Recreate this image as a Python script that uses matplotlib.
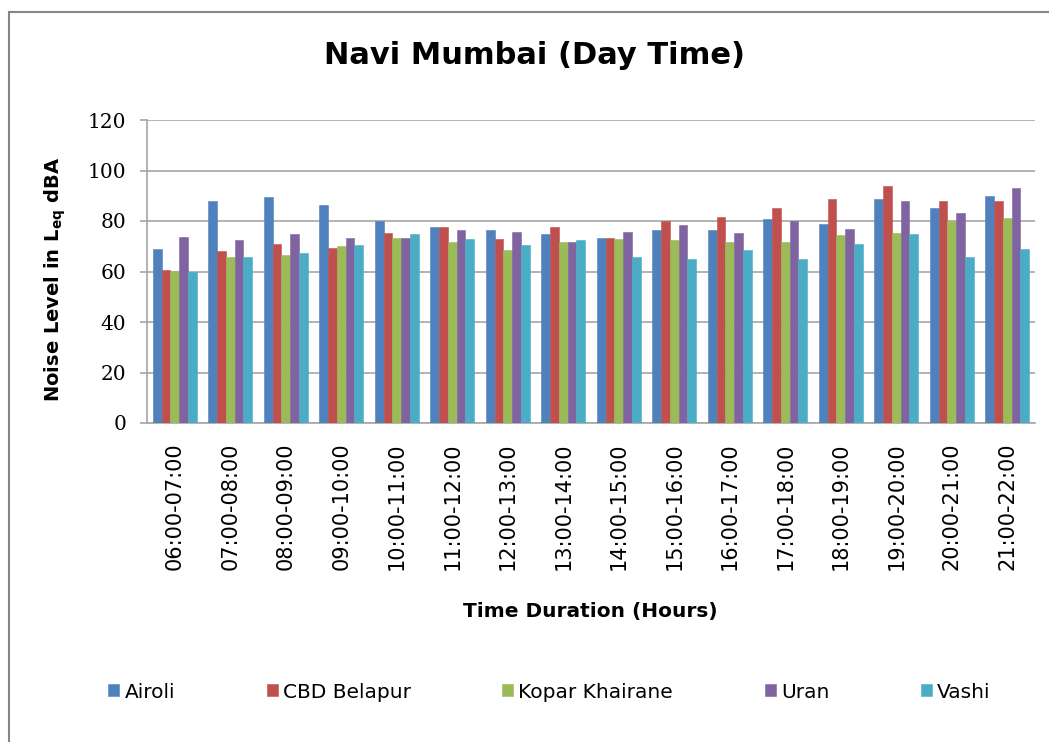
import matplotlib
matplotlib.use("Agg")
import matplotlib.pyplot as plt
import numpy as np
from matplotlib.lines import Line2D

categories = ["06:00-07:00", "07:00-08:00", "08:00-09:00", "09:00-10:00",
              "10:00-11:00", "11:00-12:00", "12:00-13:00", "13:00-14:00",
              "14:00-15:00", "15:00-16:00", "16:00-17:00", "17:00-18:00",
              "18:00-19:00", "19:00-20:00", "20:00-21:00", "21:00-22:00"]

airoli = [69.0, 88.1, 89.4, 86.5, 80.0, 77.8, 76.3, 74.9, 73.4, 76.3, 76.3, 80.7, 78.7, 88.9, 85.1, 89.9]
cbd_belapur = [60.7, 68.0, 70.9, 69.4, 75.4, 77.8, 73.0, 77.8, 73.4, 79.9, 81.6, 85.1, 88.9, 93.8, 88.1, 88.1]
kopar_khairane = [60.2, 65.6, 66.5, 70.0, 73.4, 71.8, 68.5, 71.8, 72.9, 72.4, 71.8, 71.8, 74.3, 75.3, 79.9, 81.2]
uran = [73.8, 72.4, 74.9, 73.4, 73.4, 76.3, 75.8, 71.8, 75.8, 78.3, 75.3, 79.9, 76.9, 88.1, 83.1, 92.9]
vashi = [59.8, 65.6, 67.5, 70.5, 74.9, 73.0, 70.5, 72.4, 65.6, 65.1, 68.5, 65.1, 70.9, 74.9, 65.6, 69.0]

series_names = ["Airoli", "CBD Belapur", "Kopar Khairane", "Uran", "Vashi"]
series_values = [airoli, cbd_belapur, kopar_khairane, uran, vashi]
colors = ["#4F81BD", "#C0504D", "#9BBB59", "#8064A2", "#4BACC6"]

W, H = 1049, 742
fig = plt.figure(figsize=(W / 100, H / 100), dpi=100)
ax = fig.add_axes([147 / W, 1 - 423 / H, 888 / W, 303 / H])

x = np.arange(len(categories))
bw = 0.157
for i, (name, vals, c) in enumerate(zip(series_names, series_values, colors)):
    ax.bar(x + (i - 2) * bw, vals, width=bw, color=c, label=name,
           edgecolor=c, linewidth=0.4, zorder=3)

ax.set_xlim(-0.5, len(categories) - 0.5)
ax.set_ylim(0, 120)
ax.set_yticks(np.arange(0, 121, 20))
ax.yaxis.grid(True, color="#A6A6A6", linewidth=1.2, zorder=0)
ax.set_axisbelow(True)

for s in ["top", "right"]:
    ax.spines[s].set_visible(False)
for s in ["left", "bottom"]:
    ax.spines[s].set_color("#A6A6A6")
    ax.spines[s].set_linewidth(1.2)

ax.set_xticks(x)
ax.set_xticklabels(categories, rotation=90, fontsize=15, family="DejaVu Sans")
ax.tick_params(axis="x", length=0, pad=14)
ax.tick_params(axis="y", length=5, color="#A6A6A6", width=1.2, pad=10)
for lbl in ax.get_yticklabels():
    lbl.set_family("DejaVu Serif")
    lbl.set_fontsize(14.5)

ax.set_ylabel(r"Noise Level in L$_{\mathbf{eq}}$ dBA", fontsize=14, fontweight="bold")
ax.yaxis.set_label_coords(-0.089, 0.475)

fig.text(590 / W, 1 - 612 / H, "Time Duration (Hours)", fontsize=14.5,
         fontweight="bold", ha="center", va="center")
fig.text(535 / W, 1 - 55 / H, "Navi Mumbai (Day Time)", fontsize=22,
         fontweight="bold", ha="center", va="center")

leg = fig.legend(loc="center", bbox_to_anchor=(549.5 / W, 1 - 692 / H), ncol=5,
                 frameon=False, fontsize=14.5, handlelength=0.55, handleheight=0.55,
                 handletextpad=0.25, columnspacing=4.55)

# outer chart border (top and left visible)
fig.add_artist(Line2D([9 / W, 1.0], [1 - 12 / H, 1 - 12 / H], transform=fig.transFigure,
                      color="#868686", linewidth=1.5))
fig.add_artist(Line2D([9 / W, 9 / W], [0.0, 1 - 12 / H], transform=fig.transFigure,
                      color="#868686", linewidth=1.5))

fig.savefig("out.png", dpi=100)
